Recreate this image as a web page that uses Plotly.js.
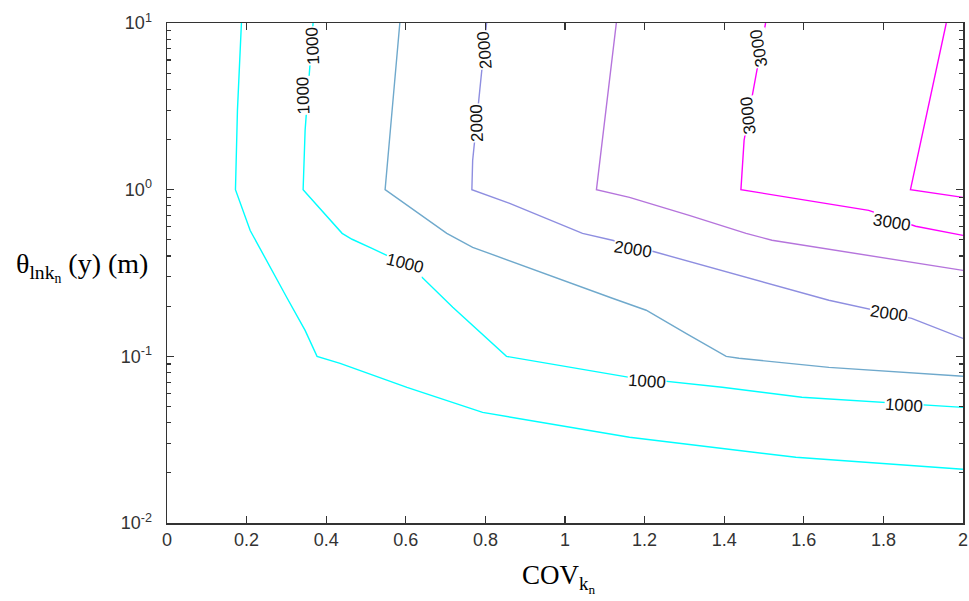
<!DOCTYPE html>
<html>
<head>
<meta charset="utf-8">
<script src="https://cdn.plot.ly/plotly-3.0.1.min.js"></script>
<style>html,body{margin:0;padding:0;background:#fff;}#chart{width:969px;height:601px;}</style>
</head>
<body>
<div id="chart"></div>
<script>
// Contour lines (x = COV_kn, y = theta (m))
const lineA_x = [0.187, 0.177, 0.172, 0.209, 0.302, 0.347, 0.377, 0.435, 0.603, 0.793, 1.162, 1.395, 1.580, 2.0];
const lineA_y = [10, 3.0, 1.0, 0.569, 0.223, 0.143, 0.1, 0.0908, 0.0652, 0.0461, 0.0327, 0.0281, 0.0248, 0.021];
const lineB_x = [0.367, 0.347, 0.342, 0.440, 0.465, 0.515, 0.615, 0.693, 0.718, 0.853, 1.162, 1.395, 1.595, 2.0];
const lineB_y = [10, 2.27, 1.0, 0.547, 0.504, 0.445, 0.342, 0.223, 0.197, 0.1, 0.0748, 0.0652, 0.0568, 0.0494];
const lineC_x = [0.585, 0.548, 0.703, 0.768, 1.119, 1.204, 1.305, 1.405, 1.437, 1.663, 2.0];
const lineC_y = [10, 1.0, 0.547, 0.451, 0.223, 0.189, 0.137, 0.1, 0.0973, 0.0859, 0.0759];
const lineD_x = [0.803, 0.768, 0.766, 0.861, 1.044, 1.119, 1.229, 1.663, 1.871, 2.0];
const lineD_y = [10, 1.5, 1.0, 0.828, 0.547, 0.497, 0.421, 0.217, 0.169, 0.128];
const lineE_x = [1.129, 1.079, 1.162, 1.312, 1.455, 1.520, 2.0];
const lineE_y = [10, 1.0, 0.899, 0.701, 0.547, 0.497, 0.328];
const lineF_x = [1.504, 1.450, 1.442, 1.763, 1.881, 2.0];
const lineF_y = [10, 1.98, 1.0, 0.751, 0.603, 0.532];
const lineG_x = [1.958, 1.868, 2.0];
const lineG_y = [10, 1.0, 0.899];

// Contour labels
const labelText = ['1000', '1000', '1000', '1000', '1000', '2000', '2000', '2000', '2000', '3000', '3000', '3000'];
const labelX    = [0.367, 0.342, 0.598, 1.207, 1.853, 0.798, 0.778, 1.172, 1.813, 1.487, 1.460, 1.821];
const labelY    = [7.3, 3.68, 0.361, 0.0708, 0.0508, 6.85, 2.5, 0.438, 0.181, 7.04, 2.79, 0.637];
const labelAng  = [-93, -92, 14, 4, 4, -95, -92, 9, 8, -100, -96, 9];

const xTicks = [0, 0.2, 0.4, 0.6, 0.8, 1, 1.2, 1.4, 1.6, 1.8, 2];
const xTickText = ['0', '0.2', '0.4', '0.6', '0.8', '1', '1.2', '1.4', '1.6', '1.8', '2'];
const yTicks = [0.01, 0.1, 1, 10];
const yTickText = ['10<sup>-2</sup>', '10<sup>-1</sup>', '10<sup>0</sup>', '10<sup>1</sup>'];

const colors = ['#00ffff', '#00ffff', '#6fa9cc', '#8e8ee0', '#b574dc', '#ff00ff', '#ff00ff'];
const lines = [[lineA_x, lineA_y], [lineB_x, lineB_y], [lineC_x, lineC_y], [lineD_x, lineD_y], [lineE_x, lineE_y], [lineF_x, lineF_y], [lineG_x, lineG_y]];

const traces = lines.map((l, i) => ({
  x: l[0], y: l[1], type: 'scatter', mode: 'lines',
  line: {color: colors[i], width: 1.4}, hoverinfo: 'skip', showlegend: false
}));

const minorVals = [];
[0.01, 0.1, 1].forEach(d => { for (let k = 2; k <= 9; k++) minorVals.push(d * k); });

const annotations = labelText.map((t, i) => ({
  x: labelX[i], y: Math.log10(labelY[i]), xref: 'x', yref: 'y', text: t, showarrow: false,
  textangle: labelAng[i], bgcolor: '#ffffff', borderpad: 0,
  font: {family: 'Liberation Sans, Arial, sans-serif', size: 17, color: '#111'}
}));

annotations.push({
  xref: 'paper', yref: 'paper', x: 0.492, y: -0.11, showarrow: false,
  text: 'COV<sub>k<sub>n</sub></sub>', xanchor: 'center', yanchor: 'middle',
  font: {family: 'Liberation Serif, Times New Roman, serif', size: 27, color: '#000'}
});
annotations.push({
  xref: 'paper', yref: 'paper', x: -0.107, y: 0.512, showarrow: false,
  text: 'θ<sub>lnk<sub>n</sub></sub> (y) (m)', xanchor: 'center', yanchor: 'middle',
  font: {family: 'Liberation Serif, Times New Roman, serif', size: 28, color: '#000'}
});

const layout = {
  width: 969, height: 601,
  margin: {l: 166.5, r: 6, t: 22.6, b: 78},
  paper_bgcolor: '#ffffff', plot_bgcolor: '#ffffff',
  showlegend: false,
  xaxis: {
    range: [0, 2], tickvals: xTicks, ticktext: xTickText,
    ticks: 'inside', ticklen: 7, tickwidth: 1.3, tickcolor: '#333',
    showline: true, linecolor: '#333', linewidth: 1.5, mirror: 'ticks',
    showgrid: false, zeroline: false,
    tickfont: {family: 'Liberation Sans, Arial, sans-serif', size: 18, color: '#333'}
  },
  yaxis: {
    type: 'log', range: [-2, 1], tickvals: yTicks, ticktext: yTickText,
    ticks: 'inside', ticklen: 7, tickwidth: 1.3, tickcolor: '#333',
    showline: true, linecolor: '#333', linewidth: 1.5, mirror: 'ticks',
    showgrid: false, zeroline: false, ticklabelstandoff: 10,
    minor: {tickmode: 'array', tickvals: minorVals, ticks: 'inside', ticklen: 4, tickcolor: '#333', tickwidth: 1.2, showgrid: false},
    tickfont: {family: 'Liberation Sans, Arial, sans-serif', size: 18, color: '#333'}
  },
  annotations: annotations
};

Plotly.newPlot('chart', traces, layout, {staticPlot: true, displayModeBar: false});
</script>
</body>
</html>
